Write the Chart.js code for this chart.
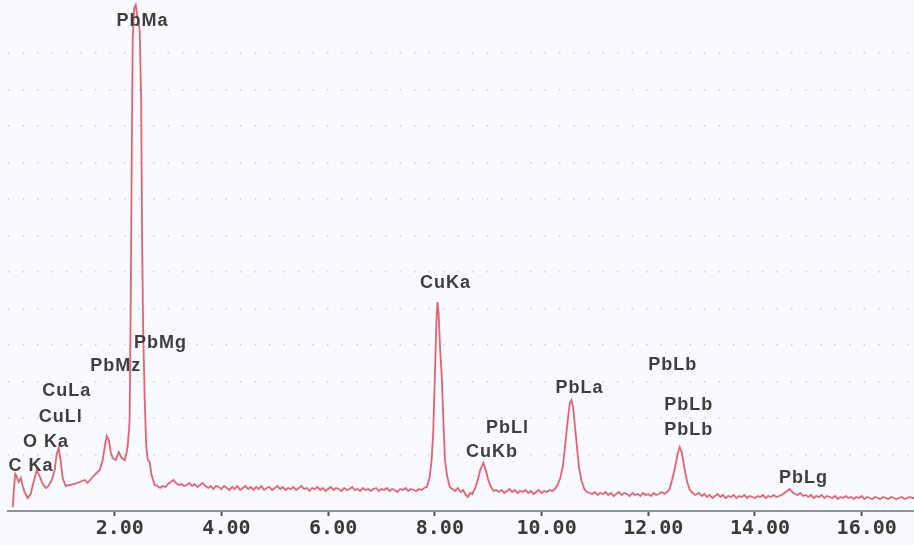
<!DOCTYPE html>
<html>
<head>
  <script src="https://cdn.jsdelivr.net/npm/chart.js@4.4.1/dist/chart.umd.min.js"></script>
  <style>
    html, body { margin: 0; padding: 0; background: #f9fafd; }
    canvas { display: block; }
  </style>
</head>
<body>
  <canvas id="spectrum" width="914" height="545"></canvas>
  <script>
// energy (keV), counts
const lowEnergy = [
  [0.09, 4], [0.11, 21], [0.135, 37], [0.16, 35], [0.20, 29], [0.24, 33], [0.275, 25],
  [0.31, 19], [0.37, 13], [0.425, 17], [0.46, 25], [0.50, 33], [0.54, 41], [0.59, 35],
  [0.65, 27], [0.71, 23], [0.76, 25], [0.82, 31], [0.875, 41], [0.91, 56], [0.95, 63],
  [0.99, 49], [1.025, 33], [1.08, 25], [1.16, 26], [1.25, 27], [1.34, 29], [1.44, 31],
  [1.49, 28], [1.57, 33], [1.64, 37], [1.72, 41], [1.775, 51], [1.81, 63], [1.85, 75],
  [1.89, 71], [1.925, 59], [1.96, 53], [2.02, 51], [2.075, 59], [2.13, 53], [2.19, 51],
  [2.225, 59], [2.245, 66]
];

const pbMPeak = [
  [2.28, 91], [2.30, 211], [2.32, 361], [2.337, 471], [2.365, 503], [2.393, 506],
  [2.42, 496], [2.468, 481], [2.496, 411], [2.515, 261], [2.534, 181], [2.562, 111],
  [2.59, 66], [2.62, 51], [2.655, 49], [2.69, 36], [2.75, 26]
];

const midBackground = [
  [2.80, 25], [2.85, 23], [2.90, 25], [2.95, 24], [3.00, 27], [3.05, 29], [3.10, 31],
  [3.15, 28], [3.20, 26], [3.25, 27], [3.30, 25], [3.35, 26], [3.40, 28], [3.45, 25],
  [3.50, 27], [3.55, 24], [3.60, 26], [3.65, 28], [3.70, 25], [3.75, 23], [3.80, 25],
  [3.85, 22], [3.90, 25], [3.95, 24], [4.00, 22], [4.05, 25], [4.10, 23], [4.15, 21],
  [4.20, 24], [4.25, 22], [4.30, 25], [4.35, 21], [4.40, 23], [4.45, 25], [4.50, 22],
  [4.55, 24], [4.60, 21], [4.65, 24], [4.70, 22], [4.75, 25], [4.80, 21], [4.85, 23],
  [4.90, 24], [4.95, 21], [5.00, 23], [5.05, 25], [5.10, 22], [5.15, 24], [5.20, 21],
  [5.25, 23], [5.30, 22], [5.35, 24], [5.40, 21], [5.45, 23], [5.50, 25], [5.55, 22],
  [5.60, 23], [5.65, 20], [5.70, 23], [5.75, 22], [5.80, 24], [5.85, 21], [5.90, 23],
  [5.95, 20], [6.00, 22], [6.05, 24], [6.10, 21], [6.15, 23], [6.20, 22], [6.25, 20],
  [6.30, 23], [6.35, 21], [6.40, 22], [6.45, 24], [6.50, 21], [6.55, 22], [6.60, 20],
  [6.65, 23], [6.70, 21], [6.75, 22], [6.80, 20], [6.85, 22], [6.90, 23], [6.95, 20],
  [7.00, 22], [7.05, 21], [7.10, 23], [7.15, 20], [7.20, 22], [7.25, 21], [7.30, 19],
  [7.35, 22], [7.40, 21], [7.45, 23], [7.50, 20], [7.55, 22], [7.60, 21], [7.65, 20],
  [7.70, 22], [7.75, 21], [7.80, 23]
];

const cuKRegion = [
  [7.85, 24], [7.90, 33], [7.94, 51], [7.97, 80], [8.00, 134], [8.03, 190], [8.05, 209],
  [8.07, 198], [8.10, 160], [8.13, 134], [8.16, 90], [8.19, 51], [8.23, 35], [8.28, 24],
  [8.33, 22], [8.38, 20], [8.43, 23], [8.48, 19], [8.53, 21], [8.58, 16], [8.62, 14],
  [8.66, 18], [8.70, 17], [8.75, 22], [8.80, 30], [8.85, 41], [8.91, 48], [8.96, 40],
  [9.00, 31], [9.05, 24], [9.10, 20], [9.15, 21], [9.20, 19], [9.25, 21], [9.30, 18],
  [9.35, 20], [9.40, 22], [9.45, 19], [9.50, 21], [9.55, 18], [9.60, 20], [9.65, 19],
  [9.70, 21], [9.75, 18], [9.80, 20], [9.85, 17], [9.90, 19], [9.95, 21], [10.00, 18],
  [10.05, 20], [10.10, 19], [10.15, 21], [10.20, 20]
];

const pbLRegion = [
  [10.25, 22], [10.30, 26], [10.35, 33], [10.40, 45], [10.45, 70], [10.50, 95],
  [10.53, 108], [10.56, 111], [10.59, 104], [10.62, 88], [10.66, 66], [10.70, 44],
  [10.75, 30], [10.80, 22], [10.85, 19], [10.90, 18], [10.95, 17], [11.00, 19],
  [11.05, 16], [11.10, 18], [11.15, 17], [11.20, 19], [11.25, 16], [11.30, 18],
  [11.35, 15], [11.40, 17], [11.45, 19], [11.50, 16], [11.55, 18], [11.60, 17],
  [11.65, 15], [11.70, 18], [11.75, 16], [11.80, 17], [11.85, 15], [11.90, 18],
  [11.95, 16], [12.00, 17], [12.05, 15], [12.10, 18], [12.15, 16], [12.20, 17],
  [12.25, 19], [12.30, 17], [12.35, 19], [12.40, 22], [12.45, 32], [12.50, 43],
  [12.55, 57], [12.59, 64], [12.63, 58], [12.68, 42], [12.73, 29], [12.78, 21],
  [12.83, 18], [12.88, 16]
];

const highBackground = [
  [12.95, 18], [13.00, 15], [13.05, 17], [13.10, 14], [13.15, 16], [13.20, 13],
  [13.25, 15], [13.30, 17], [13.35, 14], [13.40, 16], [13.45, 13], [13.50, 15],
  [13.55, 14], [13.60, 16], [13.65, 13], [13.70, 15], [13.75, 14], [13.80, 16],
  [13.85, 13], [13.90, 15], [13.95, 14], [14.00, 13], [14.05, 15], [14.10, 14],
  [14.15, 16], [14.20, 13], [14.25, 15], [14.30, 14], [14.35, 16], [14.40, 14],
  [14.45, 15], [14.50, 16], [14.55, 18], [14.60, 20], [14.65, 22], [14.70, 19],
  [14.75, 17], [14.80, 16], [14.85, 18], [14.90, 15], [14.95, 16], [15.00, 14],
  [15.05, 16], [15.10, 13], [15.15, 15], [15.20, 14], [15.25, 16], [15.30, 13],
  [15.35, 15], [15.40, 14], [15.45, 13], [15.50, 15], [15.55, 12], [15.60, 14],
  [15.65, 13], [15.70, 15], [15.75, 13], [15.80, 14], [15.85, 12], [15.90, 14],
  [15.95, 13], [16.00, 15], [16.05, 12], [16.10, 14], [16.15, 13], [16.20, 12],
  [16.25, 14], [16.30, 13], [16.35, 12], [16.40, 14], [16.45, 13], [16.50, 12],
  [16.55, 14], [16.60, 13], [16.65, 12], [16.70, 13], [16.75, 14], [16.80, 12],
  [16.85, 13], [16.90, 14], [16.95, 13], [17.00, 13]
];

// peak markers: name, energy, height where the text sits
const lineNames  = ['PbMa', 'PbMg', 'PbMz', 'CuLa', 'CuLl', 'O Ka', 'C Ka', 'CuKa', 'PbLl', 'CuKb', 'PbLa', 'PbLb', 'PbLb', 'PbLb', 'PbLg'];
const lineKeV    = [2.52, 2.86, 2.02, 1.10, 0.99, 0.71, 0.43, 8.20, 9.36, 9.07, 10.71, 12.46, 12.76, 12.76, 14.91];
const lineCounts = [490, 168, 145, 120, 94, 69, 45, 228, 83, 59, 123, 146, 106, 81, 33];

const tickKeV = [2, 4, 6, 8, 10, 12, 14, 16];

const spectrum = [].concat(lowEnergy, pbMPeak, midBackground, cuKRegion, pbLRegion, highBackground)
  .map(p => ({ x: p[0], y: p[1] }));

const GRID_START = 56.5, GRID_STEP = 36.5, GRID_END = 460;

const bgPlugin = {
  id: 'bg',
  beforeDraw(chart) {
    const ctx = chart.ctx;
    ctx.save();
    ctx.fillStyle = '#f9fafd';
    ctx.fillRect(0, 0, chart.width, chart.height);
    ctx.restore();
  }
};

const lineLabels = {
  id: 'lineLabels',
  afterDatasetsDraw(chart) {
    const ctx = chart.ctx;
    const xs = chart.scales.x, ys = chart.scales.y;
    ctx.save();
    ctx.font = 'bold 18px "Liberation Sans", Arial, sans-serif';
    ctx.letterSpacing = '1px';
    ctx.fillStyle = '#3e3e3e';
    ctx.textAlign = 'center';
    ctx.textBaseline = 'middle';
    lineNames.forEach((name, i) => {
      ctx.fillText(name, xs.getPixelForValue(lineKeV[i]), ys.getPixelForValue(lineCounts[i]));
    });
    ctx.restore();
  }
};

new Chart(document.getElementById('spectrum'), {
  type: 'line',
  data: {
    datasets: [{
      data: spectrum,
      borderColor: '#e66272',
      borderWidth: 1.8,
      pointRadius: 0,
      tension: 0,
      fill: false
    }]
  },
  options: {
    responsive: false,
    animation: false,
    layout: { padding: 0 },
    plugins: { legend: { display: false }, tooltip: { enabled: false } },
    scales: {
      x: {
        type: 'linear',
        min: 0,
        max: 16.98,
        afterBuildTicks: scale => { scale.ticks = tickKeV.map(v => ({ value: v })); },
        afterFit: scale => { scale.height = 34; },
        ticks: {
          callback: v => v.toFixed(2),
          font: { family: '"DejaVu Sans Mono", monospace', size: 20, weight: 'bold' },
          color: '#3a3a3a',
          padding: 1,
          labelOffset: 5,
          maxRotation: 0,
          autoSkip: false
        },
        grid: { drawOnChartArea: false, drawTicks: true, tickLength: 5, tickWidth: 2, tickColor: '#4d5252' },
        border: { display: true, color: '#8d9696', width: 2 }
      },
      y: {
        min: 0,
        max: 511,
        afterBuildTicks: scale => {
          const t = [];
          for (let v = GRID_START; v <= GRID_END; v += GRID_STEP) t.push({ value: v });
          scale.ticks = t;
        },
        afterFit: scale => { scale.width = 8; },
        ticks: { display: false },
        grid: { drawTicks: false, color: 'rgba(165,170,180,0.5)', lineWidth: 1.5 },
        border: { display: false, dash: [1.5, 13] }
      }
    }
  },
  plugins: [bgPlugin, lineLabels]
});
  </script>
</body>
</html>
